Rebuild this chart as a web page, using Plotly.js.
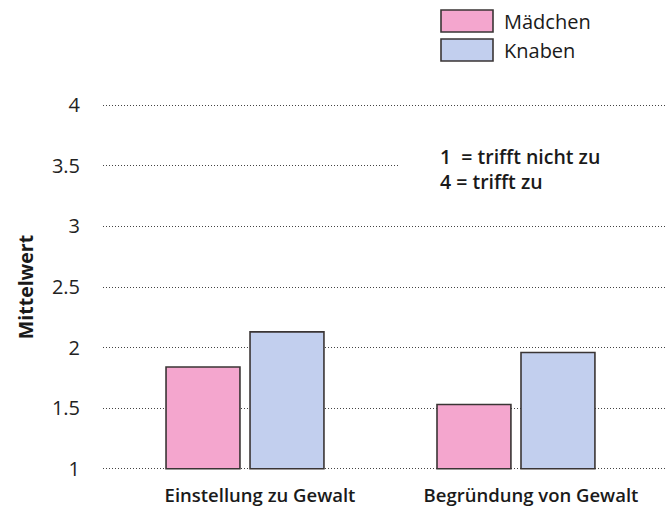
<!DOCTYPE html>
<html>
<head>
<meta charset="utf-8">
<script src="https://cdn.plot.ly/plotly-3.0.1.min.js"></script>
<style>html,body{margin:0;padding:0;background:#fff;}#chart{width:665px;height:514px;}</style>
</head>
<body>
<div id="chart"></div>
<script>
const categories = ["Einstellung zu Gewalt", "Begründung von Gewalt"];
const seriesNames = ["Mädchen", "Knaben"];
const maedchen = [1.84, 1.53];
const knaben = [2.13, 1.96];
const yTicks = [1, 1.5, 2, 2.5, 3, 3.5, 4];
const yTickLabels = ["1", "1.5", "2", "2.5", "3", "3.5", "4"];
const noteLines = ["1 &nbsp;= trifft nicht zu", "4 = trifft zu"];
const colors = ["#f4a6ce", "#c2cfee"];

const FONT = "Open Sans, Noto Sans, sans-serif";
const baseVal = 1;

const traces = [maedchen, knaben].map((vals, i) => ({
  type: "bar",
  name: seriesNames[i],
  x: categories,
  y: vals.map(v => v - baseVal),
  base: baseVal,
  marker: {color: colors[i], line: {color: "#3a3535", width: 1.6}},
  showlegend: false,
  hoverinfo: "skip"
}));

const W = 665, H = 514;
const m = {l: 103, r: 0, t: 104, b: 44};
const pw = W - m.l - m.r, ph = H - m.t - m.b;
const px = x => (x - m.l) / pw;
const py = y => (H - m.b - y) / ph;

// white panel behind the note (the reference's 3.5 grid line stops at it)
const shapes = [{type: "rect", xref: "paper", yref: "paper", layer: "above",
  x0: px(400), x1: 1, y0: py(195), y1: py(140),
  fillcolor: "#fff", line: {width: 0}}];
const annotations = [];
const legendBoxes = [[10, 32], [39, 61]];
seriesNames.forEach((n, i) => {
  shapes.push({type: "rect", xref: "paper", yref: "paper",
    x0: px(441), x1: px(493), y0: py(legendBoxes[i][1]), y1: py(legendBoxes[i][0]),
    fillcolor: colors[i], line: {color: "#3a3535", width: 1.6}});
  annotations.push({xref: "paper", yref: "paper", x: px(502), y: py((legendBoxes[i][0] + legendBoxes[i][1]) / 2),
    xanchor: "left", yanchor: "middle", showarrow: false, text: n,
    font: {family: FONT, size: 20, color: "#1a1a1a"}});
});
annotations.push({xref: "paper", yref: "paper", x: px(438), y: py(169),
  xanchor: "left", yanchor: "middle", align: "left", showarrow: false,
  text: noteLines.join("<br>"),
  font: {family: FONT, size: 19.5, color: "#1a1a1a", weight: 600}});

const layout = {
  width: W, height: H,
  margin: m,
  paper_bgcolor: "#fff", plot_bgcolor: "#fff",
  barmode: "group",
  bargap: 0.38,
  bargroupgap: 0.12,
  font: {family: FONT, color: "#222"},
  xaxis: {
    type: "category",
    range: [-0.524, 1.55],
    showgrid: false, zeroline: false, showline: false,
    ticks: "", tickfont: {family: FONT, size: 18.5, color: "#1a1a1a", weight: 600},
    ticklabelshift: 15,
    ticklabelstandoff: 12
  },
  yaxis: {
    range: [0.99, 4.01],
    tickvals: yTicks, ticktext: yTickLabels,
    showgrid: true, gridcolor: "#444", griddash: "1px,2px", gridwidth: 1,
    zeroline: false, showline: false,
    ticks: "", ticklabelstandoff: 22,
    tickfont: {family: FONT, size: 20, color: "#222"},
    title: {text: "Mittelwert", font: {family: FONT, size: 19.5, color: "#1a1a1a", weight: 700}, standoff: 13}
  },
  shapes: shapes,
  annotations: annotations
};

Plotly.newPlot("chart", traces, layout, {displayModeBar: false, staticPlot: true});
</script>
</body>
</html>
